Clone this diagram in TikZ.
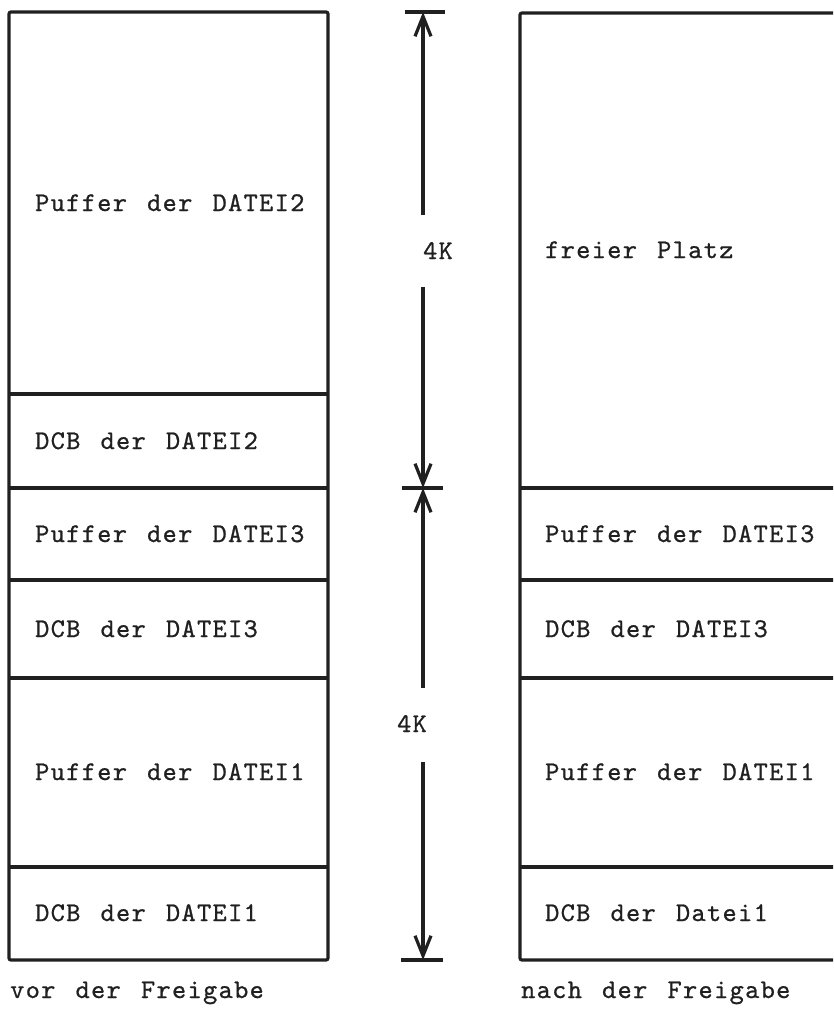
\documentclass[tikz,border=0pt]{standalone}
\usepackage{fontspec}
\usetikzlibrary{arrows.meta}
\definecolor{ink}{HTML}{202020}
% typewriter face with a wide pitch and clear word gaps
\newfontfamily\twfont{lmmono10-regular}[Extension=.otf, LetterSpace=5, WordSpace=1.3, FakeBold=0.8]
\newcommand\tw{\twfont\fontsize{27}{31}\selectfont}
\begin{document}
\begin{tikzpicture}[x=1pt,y=-1pt,
  frame/.style={draw=ink, line width=3.2pt, rounded corners=2pt},
  sep/.style={draw=ink, line width=3.2pt},
  lbl/.style={anchor=base west, inner sep=0pt, font=\tw, text=ink},
  dimlbl/.style={anchor=base, inner sep=0pt, font=\tw, text=ink},
  dimline/.style={draw=ink, line width=3.2pt},
  tip/.style={-{Straight Barb[length=20pt,width=16pt,line width=3.2pt]}}]
\useasboundingbox (0,0) rectangle (833,1022);
\clip (0,0) rectangle (833,1022);

% memory layout before release
\draw[frame] (9,12) rectangle (328,960);
\foreach \y in {394,488,580,678,867} \draw[sep] (9,\y) -- (328,\y);
\node[lbl] (lp2) at (35,211) {Puffer der DATEI2};
\node[lbl] (ld2) at (35,449) {DCB der DATEI2};
\node[lbl] (lp3) at (35,542) {Puffer der DATEI3};
\node[lbl] (ld3) at (35,637) {DCB der DATEI3};
\node[lbl] (lp1) at (35,780) {Puffer der DATEI1};
\node[lbl] (ld1) at (35,921) {DCB der DATEI1};
\node[lbl] (lcap) at (10,998) {vor der Freigabe};

% memory layout after release
\draw[frame] (520,13) rectangle (842,960);
\foreach \y in {488,580,678,867} \draw[sep] (520,\y) -- (842,\y);
\node[lbl] (rfree) at (545,258) {freier Platz};
\node[lbl] (rp3) at (545,542) {Puffer der DATEI3};
\node[lbl] (rd3) at (545,637) {DCB der DATEI3};
\node[lbl] (rp1) at (545,780) {Puffer der DATEI1};
\node[lbl] (rd1) at (545,921) {DCB der Datei1};
\node[lbl] (rcap) at (521,998) {nach der Freigabe};

% size markers
\coordinate (top) at (423,12);
\coordinate (mid) at (423,488);
\coordinate (bot) at (423,960);
\coordinate (a1) at (423,215);
\coordinate (a2) at (423,287);
\coordinate (b1) at (423,688);
\coordinate (b2) at (423,762);
\node[dimlbl] (k1) at (438,259) {4K};
\node[dimlbl] (k2) at (412,732) {4K};
\draw[dimline] ([xshift=-18pt]top) -- ([xshift=22pt]top);
\draw[dimline] ([xshift=-21pt]mid) -- ([xshift=20pt]mid);
\draw[dimline] ([xshift=-22pt]bot) -- ([xshift=20pt]bot);
\draw[dimline,tip] (a1) -- (top);
\draw[dimline,tip] (a2) -- (mid);
\draw[dimline,tip] (b1) -- (mid);
\draw[dimline,tip] (b2) -- (bot);
\end{tikzpicture}
\end{document}
